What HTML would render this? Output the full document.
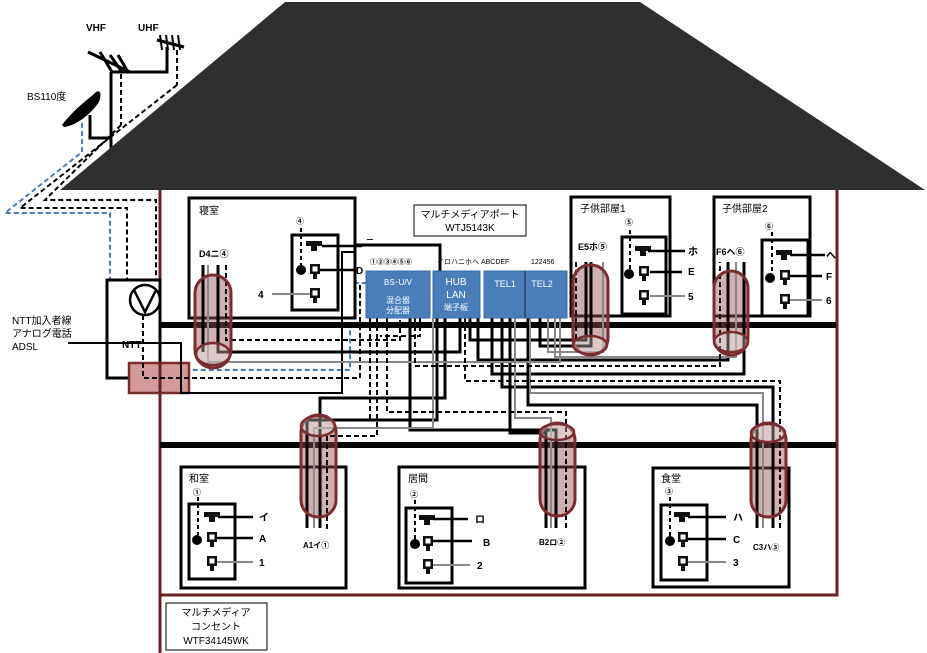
<!DOCTYPE html>
<html><head><meta charset="utf-8"><style>
html,body{margin:0;padding:0;background:#fff;width:927px;height:653px;overflow:hidden}
svg{display:block}
text{font-family:"Liberation Sans","Noto Sans CJK JP",sans-serif;}
</style></head><body>
<svg width="927" height="653" viewBox="0 0 927 653" xmlns="http://www.w3.org/2000/svg">
<defs>
<g id="tv"><path d="M-8,-5 h16 v5 h-5 v5 h-6 v-5 h-5z" fill="#111"/></g>
<g id="plug"><rect x="-5" y="-6" width="10" height="10" fill="#111"/><rect x="-2.5" y="-3.5" width="5" height="5" fill="#fff"/><rect x="-2" y="4" width="4" height="5" fill="#111"/></g>
</defs>

<!-- antennas -->
<g stroke="#000" stroke-width="3" fill="none">
<line x1="111" y1="150" x2="111" y2="72"/>
<polyline points="111,72 167,72 167,47"/>
<line x1="88" y1="52" x2="130" y2="72"/>
<line x1="100" y1="52" x2="112" y2="72"/>
<line x1="110" y1="55" x2="122" y2="72"/>
<line x1="118" y1="55" x2="128" y2="72"/>
<line x1="157" y1="40" x2="184" y2="47"/>
<polyline points="90,115 90,138 110,138"/>
</g>
<g stroke="#000" stroke-width="2">
<line x1="160" y1="35" x2="162" y2="50"/><line x1="166" y1="35" x2="168" y2="50"/><line x1="172" y1="35" x2="174" y2="50"/><line x1="178" y1="35" x2="180" y2="50"/>
</g>
<path d="M62,125 C75,108 90,98 96,92 C102,88 102,100 96,106 C88,116 75,126 64,127z" fill="#000"/>
<text x="86" y="31" font-size="10" font-weight="bold">VHF</text>
<text x="138" y="31" font-size="10" font-weight="bold">UHF</text>
<text x="27" y="100" font-size="10">BS110度</text>
<g stroke="#000" stroke-width="2" stroke-dasharray="5,3" fill="none">
<line x1="121" y1="74" x2="121" y2="125"/>
<line x1="177" y1="50" x2="177" y2="85"/>
</g>

<!-- roof -->
<polygon points="60,190 285,2 640,2 925,190" fill="#2f2f2f"/>

<!-- roof descending cables -->
<g fill="none" stroke-width="2" stroke-dasharray="5,3">
<polyline points="82,123 82,152 5,213 110,213 110,370 350,370 350,283 366,283" stroke="#4a7ebb"/>
<polyline points="177,85 20,208 127,208 127,290" stroke="#000"/>
<polyline points="121,125 45,200 156,200 156,290" stroke="#000"/>
</g>

<!-- house walls -->
<g stroke="#6b2020" stroke-width="3" fill="none">
<polyline points="160,190 160,653"/>
<polyline points="837,190 837,595 160,595"/>
</g>

<!-- floor bars -->
<rect x="160" y="322" width="676" height="6" fill="#000"/>
<rect x="160" y="442" width="676" height="6" fill="#000"/>

<!-- NTT -->
<rect x="107" y="280" width="53" height="98" fill="#fff" stroke="#000" stroke-width="3"/>
<circle cx="145" cy="300" r="15" fill="#fff" stroke="#000" stroke-width="2.5"/>
<polyline points="134,290 145,312 156,290" fill="none" stroke="#000" stroke-width="2.5"/>
<text x="122" y="348" font-size="10" font-weight="bold">NTT</text>
<rect x="129" y="363" width="60" height="30" fill="#d49a9a" stroke="#7b2c2c" stroke-width="2.5"/>
<line x1="160" y1="363" x2="160" y2="393" stroke="#6b2020" stroke-width="3"/>
<text x="12" y="324" font-size="10">NTT加入者線</text>
<text x="12" y="337" font-size="10">アナログ電話</text>
<text x="12" y="350" font-size="10">ADSL</text>

<!-- rooms -->
<g fill="#fff" stroke="#000" stroke-width="3">
<rect x="189" y="198" width="166" height="120"/>
<rect x="571" y="197" width="99" height="119"/>
<rect x="714" y="197" width="96" height="119"/>
<rect x="181" y="467" width="165" height="121"/>
<rect x="399" y="467" width="186" height="121"/>
<rect x="653" y="468" width="136" height="119"/>
</g>

<!-- cylinder fills -->
<g fill="rgba(150,80,80,0.45)" stroke="none">
<rect x="195" y="275" width="36" height="93" rx="18"/>
<rect x="573" y="265" width="35" height="90" rx="17"/>
<rect x="714" y="271" width="34" height="84" rx="17"/>
<rect x="301" y="415" width="35" height="102" rx="17"/>
<rect x="540" y="423" width="35" height="93" rx="17"/>
<rect x="751" y="423" width="35" height="94" rx="17"/>
</g>

<!-- wiring -->
<polyline points="68,343 181,343 181,393 342,393 342,252 355,252" fill="none" stroke="#000" stroke-width="2"/>
<polyline points="143,315 143,378 360,378 360,283" fill="none" stroke="#000" stroke-width="2" stroke-dasharray="5,3"/>
<g fill="none" stroke="#000" stroke-width="3">
<polyline points="203,265 203,352"/>
<polyline points="218,265 218,352 460,352 460,318"/>
<polyline points="355,245 440,245 440,271"/>
<polyline points="437,318 437,420 307,420 307,528"/>
<polyline points="445,318 445,398 320,398 320,528"/>
<polyline points="470,318 470,340 586,340 586,262"/>
<polyline points="478,318 478,360 728,360 728,262"/>
<polyline points="492,318 492,374 744,374 744,262"/>
<polyline points="502,318 502,387 773,387 773,528"/>
<polyline points="510,318 510,433 546,433 546,528"/>
<polyline points="528,318 528,405 757,405 757,528"/>
<polyline points="540,318 540,346 591,346 591,262"/>
<polyline points="410,318 410,430 556,430 556,528"/>
</g>
<g fill="none" stroke="#888" stroke-width="2">
<polyline points="208,265 208,362 560,362 560,318"/>
<polyline points="548,318 548,352 603,352 603,262"/>
<polyline points="555,318 555,357 736,357 736,262"/>
<polyline points="530,318 530,393 763,393 763,528"/>
<polyline points="515,318 515,418 551,418 551,528"/>
<polyline points="433,318 433,428 314,428 314,528"/>
</g>
<g fill="none" stroke="#000" stroke-width="2" stroke-dasharray="5,3">
<polyline points="226,265 226,340 400,340 400,318"/>
<polyline points="420,318 420,336 380,336"/>
<polyline points="377,318 377,436 327,436 327,530"/>
<polyline points="387,318 387,412 566,412 566,530"/>
<polyline points="415,318 415,366 720,366 720,262"/>
<polyline points="465,318 465,381 780,381 780,530"/>
<polyline points="370,318 370,420"/>
<polyline points="576,262 576,340"/>
</g>

<!-- cylinder outlines -->
<g fill="none" stroke="#7b2c2c" stroke-width="3">
<rect x="195" y="275" width="36" height="93" rx="18"/>
<rect x="573" y="265" width="35" height="90" rx="17"/>
<rect x="714" y="271" width="34" height="84" rx="17"/>
<rect x="301" y="415" width="35" height="102" rx="17"/>
<rect x="540" y="423" width="35" height="93" rx="17"/>
<rect x="751" y="423" width="35" height="94" rx="17"/>
</g>
<g fill="rgba(255,255,255,0.3)" stroke="#7b2c2c" stroke-width="2.5">
<ellipse cx="213" cy="354" rx="17" ry="11"/>
<ellipse cx="590" cy="345" rx="17" ry="9"/>
<ellipse cx="731" cy="342" rx="17" ry="10"/>
<ellipse cx="318" cy="426" rx="17" ry="10"/>
<ellipse cx="557" cy="432" rx="17" ry="8"/>
<ellipse cx="768" cy="433" rx="17" ry="9"/>
</g>

<!-- inner outlet boxes -->
<g fill="#fff" stroke="#000" stroke-width="3">
<rect x="292" y="235" width="46" height="75"/>
<rect x="622" y="237" width="44" height="77"/>
<rect x="762" y="240" width="46" height="76"/>
<rect x="189" y="504" width="46" height="75"/>
<rect x="406" y="508" width="46" height="75"/>
<rect x="661" y="505" width="46" height="75"/>
</g>
<text x="199" y="214" font-size="10">寝室</text>
<text x="580" y="212" font-size="10">子供部屋1</text>
<text x="722" y="212" font-size="10">子供部屋2</text>
<text x="189" y="482" font-size="10">和室</text>
<text x="408" y="482" font-size="10">居間</text>
<text x="661" y="482" font-size="10">食堂</text>

<!-- 寝室 outlet -->
<line x1="301" y1="228" x2="301" y2="265" stroke="#000" stroke-width="2" stroke-dasharray="4,3"/>
<text x="296" y="224" font-size="8" font-weight="bold">④</text>
<use href="#tv" x="314" y="246"/><use href="#plug" x="315" y="270"/><use href="#plug" x="315" y="294"/>
<circle cx="301" cy="270" r="5" fill="#000"/>
<line x1="322" y1="246" x2="362" y2="246" stroke="#000" stroke-width="2.5"/>
<line x1="320" y1="270" x2="355" y2="270" stroke="#000" stroke-width="2.5"/>
<line x1="272" y1="294" x2="310" y2="294" stroke="#888" stroke-width="2"/>
<text x="258" y="298" font-size="10" font-weight="bold">4</text>
<text x="365" y="246" font-size="10">ニ</text>
<text x="356" y="274" font-size="10" font-weight="bold">D</text>
<text x="199" y="257" font-size="9" font-weight="bold">D4ニ④</text>

<!-- 子供部屋1 outlet -->
<line x1="630" y1="230" x2="630" y2="270" stroke="#000" stroke-width="2" stroke-dasharray="4,3"/>
<text x="625" y="225" font-size="8" font-weight="bold">⑤</text>
<use href="#tv" x="643" y="251"/><use href="#plug" x="644" y="272"/><use href="#plug" x="644" y="296"/>
<circle cx="629" cy="274" r="5" fill="#000"/>
<line x1="648" y1="251" x2="685" y2="251" stroke="#000" stroke-width="2.5"/>
<line x1="650" y1="272" x2="682" y2="272" stroke="#000" stroke-width="2.5"/>
<line x1="650" y1="296" x2="685" y2="296" stroke="#888" stroke-width="2"/>
<text x="688" y="255" font-size="10" font-weight="bold">ホ</text>
<text x="688" y="275" font-size="10" font-weight="bold">E</text>
<text x="688" y="300" font-size="10" font-weight="bold">5</text>
<text x="578" y="250" font-size="9" font-weight="bold">E5ホ⑤</text>

<!-- 子供部屋2 outlet -->
<line x1="772" y1="232" x2="772" y2="272" stroke="#000" stroke-width="2" stroke-dasharray="4,3"/>
<text x="765" y="229" font-size="8" font-weight="bold">⑥</text>
<use href="#tv" x="784" y="255"/><use href="#plug" x="785" y="276"/><use href="#plug" x="785" y="300"/>
<circle cx="770" cy="278" r="5" fill="#000"/>
<line x1="790" y1="255" x2="825" y2="255" stroke="#000" stroke-width="2.5"/>
<line x1="790" y1="276" x2="822" y2="276" stroke="#000" stroke-width="2.5"/>
<line x1="790" y1="300" x2="822" y2="300" stroke="#888" stroke-width="2"/>
<text x="826" y="259" font-size="10" font-weight="bold">ヘ</text>
<text x="826" y="280" font-size="10" font-weight="bold">F</text>
<text x="826" y="304" font-size="10" font-weight="bold">6</text>
<text x="716" y="255" font-size="9" font-weight="bold">F6ヘ⑥</text>

<!-- multimedia port -->
<rect x="414" y="205" width="112" height="31" fill="#fff" stroke="#000" stroke-width="1"/>
<text x="470" y="218" font-size="10" text-anchor="middle">マルチメディアポート</text>
<text x="470" y="231" font-size="10" text-anchor="middle">WTJ5143K</text>
<text x="370" y="264" font-size="7" font-weight="bold">①②③④⑤⑥</text>
<text x="437" y="264" font-size="7">イロハニホヘ ABCDEF</text>
<text x="531" y="264" font-size="7">122456</text>
<rect x="366" y="271" width="64" height="47" fill="#4a7ebb" stroke="#3a6aa0"/>
<rect x="433" y="271" width="47" height="47" fill="#4a7ebb" stroke="#3a6aa0"/>
<rect x="484" y="271" width="83" height="47" fill="#4a7ebb" stroke="#3a6aa0"/>
<line x1="525" y1="271" x2="525" y2="318" stroke="#223" stroke-width="1"/>
<g fill="#fff" text-anchor="middle">
<text x="398" y="285" font-size="8">BS･U/V</text>
<text x="398" y="303" font-size="8">混合器</text>
<text x="398" y="313" font-size="8">分配器</text>
<text x="456" y="285" font-size="10">HUB</text>
<text x="456" y="298" font-size="10">LAN</text>
<text x="456" y="310" font-size="8">端子板</text>
<text x="505" y="287" font-size="9">TEL1</text>
<text x="542" y="287" font-size="9">TEL2</text>
</g>

<!-- 和室 outlet -->
<text x="193" y="495" font-size="8" font-weight="bold">①</text>
<line x1="198" y1="497" x2="198" y2="535" stroke="#000" stroke-width="2" stroke-dasharray="4,3"/>
<use href="#tv" x="212" y="517"/><use href="#plug" x="212" y="538"/><use href="#plug" x="212" y="562"/>
<circle cx="197" cy="540" r="5" fill="#000"/>
<line x1="218" y1="517" x2="253" y2="517" stroke="#000" stroke-width="2.5"/>
<line x1="217" y1="538" x2="253" y2="538" stroke="#000" stroke-width="2.5"/>
<line x1="217" y1="562" x2="253" y2="562" stroke="#888" stroke-width="2"/>
<text x="259" y="521" font-size="10" font-weight="bold">イ</text>
<text x="259" y="542" font-size="10" font-weight="bold">A</text>
<text x="259" y="566" font-size="10" font-weight="bold">1</text>
<text x="303" y="548" font-size="8" font-weight="bold">A1イ①</text>

<!-- 居間 outlet -->
<text x="410" y="497" font-size="8" font-weight="bold">②</text>
<line x1="415" y1="500" x2="415" y2="540" stroke="#000" stroke-width="2" stroke-dasharray="4,3"/>
<use href="#tv" x="427" y="520"/><use href="#plug" x="428" y="542"/><use href="#plug" x="428" y="565"/>
<circle cx="415" cy="544" r="5" fill="#000"/>
<line x1="433" y1="519" x2="468" y2="519" stroke="#000" stroke-width="2.5"/>
<line x1="433" y1="541" x2="472" y2="541" stroke="#000" stroke-width="2.5"/>
<line x1="433" y1="565" x2="470" y2="565" stroke="#888" stroke-width="2"/>
<text x="475" y="523" font-size="10" font-weight="bold">ロ</text>
<text x="483" y="546" font-size="10" font-weight="bold">B</text>
<text x="477" y="569" font-size="10" font-weight="bold">2</text>
<text x="539" y="545" font-size="8" font-weight="bold">B2ロ②</text>

<!-- 食堂 outlet -->
<text x="665" y="494" font-size="8" font-weight="bold">③</text>
<line x1="670" y1="497" x2="670" y2="538" stroke="#000" stroke-width="2" stroke-dasharray="4,3"/>
<use href="#tv" x="682" y="517"/><use href="#plug" x="683" y="538"/><use href="#plug" x="683" y="562"/>
<circle cx="670" cy="541" r="5" fill="#000"/>
<line x1="688" y1="517" x2="726" y2="517" stroke="#000" stroke-width="2.5"/>
<line x1="688" y1="539" x2="726" y2="539" stroke="#000" stroke-width="2.5"/>
<line x1="688" y1="562" x2="726" y2="562" stroke="#888" stroke-width="2"/>
<text x="733" y="521" font-size="10" font-weight="bold">ハ</text>
<text x="733" y="543" font-size="10" font-weight="bold">C</text>
<text x="733" y="566" font-size="10" font-weight="bold">3</text>
<text x="753" y="550" font-size="8" font-weight="bold">C3ハ③</text>

<!-- outlet label -->
<rect x="166" y="603" width="101" height="47" fill="#fff" stroke="#000" stroke-width="1"/>
<g font-size="10" text-anchor="middle">
<text x="216" y="616">マルチメディア</text>
<text x="216" y="630">コンセント</text>
<text x="216" y="644">WTF34145WK</text>
</g>
</svg>
</body></html>
